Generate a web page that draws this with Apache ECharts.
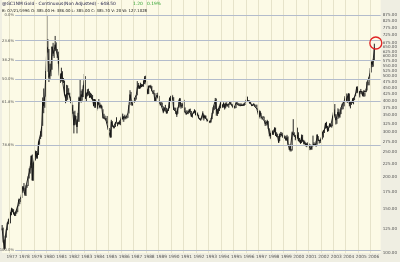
<!DOCTYPE html>
<html><head><meta charset="utf-8">
<script src="https://cdn.jsdelivr.net/npm/echarts@6/dist/echarts.min.js"></script>
<style>html,body{margin:0;padding:0;background:#efeee2;}#c{width:400px;height:262px;}</style>
</head><body><div id="c"></div>
<script>
// Monthly gold (continuous futures), Jun 1976 .. Apr 2006
const startYear = 1976, startMonth = 6;
const closes = [
125,113,104,116,123,131,134,
132,142,149,148,144,141,145,145,154,162,160,165,
175,183,181,170,184,183,200,208,218,242,194,226,
233,251,240,246,275,277,296,315,397,382,415,512,
653,637,494,517,535,653,614,631,666,630,619,590,
506,489,514,482,480,422,409,426,428,427,414,397,
384,362,320,350,333,315,342,411,397,423,414,448,
481,408,414,433,437,416,422,414,405,382,405,382,
370,395,394,377,385,372,342,348,341,333,329,309,
306,288,330,321,315,317,327,333,326,325,325,327,
350,338,345,345,343,346,357,385,423,401,383,391,
405,405,421,451,460,448,462,453,460,468,492,484,
458,427,458,451,455,437,437,427,397,412,421,410,
394,387,383,377,362,373,368,359,367,375,409,401,
415,407,368,368,363,352,372,387,408,380,383,386,
366,362,355,357,360,368,362,347,354,358,366,353,
354,353,341,337,337,343,357,341,349,339,334,333,
329,329,337,354,375,378,401,371,355,369,373,391,
377,381,391,376,387,385,384,386,394,389,383,383,
374,376,392,389,385,387,383,382,383,383,387,387,
405,400,396,392,391,382,385,386,379,379,371,369,
345,363,348,340,345,334,324,325,332,311,296,290,
305,297,301,310,293,296,288,273,294,292,294,288,
287,287,279,286,268,262,255,254,299,299,291,290,
283,293,278,275,272,288,276,277,273,265,270,272,
265,267,257,264,267,270,265,273,293,279,275,277,
282,297,302,308,326,318,304,312,323,317,319,347,
368,348,335,340,361,346,355,375,385,386,398,416,
400,397,427,388,393,395,391,408,416,428,452,438,
422,435,428,435,417,436,429,433,473,470,496,517,
569,556,583,648.5
];
const highs = [
129,126,113,117,124,132,136,
136,145,151,150,149,145,146,148,154,164,163,166,
177,184,189,181,185,186,201,216,220,243,245,227,
237,254,253,248,276,282,303,316,412,447,416,524,
873,700,640,560,560,655,677,635,721,680,640,625,
600,512,540,523,492,480,423,462,460,448,430,415,
400,385,362,365,348,337,358,415,487,438,444,460,
510,500,430,444,446,436,430,426,421,406,405,404,
386,397,406,393,386,382,370,355,349,342,348,333,
312,307,336,332,318,319,330,344,328,330,334,331,
358,355,348,352,347,348,356,384,440,433,400,393,
410,411,421,478,470,459,471,466,463,481,500,502,
478,444,458,459,462,457,438,441,428,412,429,431,
418,397,395,393,380,377,385,375,367,375,412,418,
424,420,413,376,375,365,376,404,410,392,391,393,
403,376,366,366,362,371,372,364,355,362,370,366,
361,359,352,342,340,346,363,353,350,349,340,337,
334,333,342,358,377,383,410,408,371,374,381,395,
395,386,394,389,393,394,388,388,399,395,389,387,
381,380,395,396,392,390,390,390,387,390,390,389,
418,415,402,401,396,389,387,391,388,384,386,373,
368,365,358,346,348,346,335,330,336,332,311,298,
307,305,302,314,313,300,296,290,297,301,300,298,
293,291,290,293,289,269,264,258,302,338,300,293,
292,313,300,285,280,294,293,280,278,274,272,274,
272,269,268,264,291,274,270,276,295,290,280,281,
285,302,306,309,327,330,318,313,326,325,322,349,
371,388,354,341,373,370,360,376,389,394,398,417,
427,415,427,427,395,398,409,410,417,429,455,456,
438,437,445,436,435,441,429,446,475,476,497,538,
573,572,585,672
];
const lows = [
123,110,103,104,115,123,130,
129,131,141,145,142,140,140,143,145,153,156,159,
165,173,176,168,168,181,184,197,206,217,193,193,
217,232,236,236,244,268,282,288,318,357,375,415,
520,620,474,485,500,530,600,590,630,630,590,560,
500,470,476,480,470,420,391,396,403,422,412,392,
370,355,297,320,322,297,330,330,397,393,400,413,
448,406,396,416,426,410,411,405,402,380,375,375,
365,372,386,373,373,372,340,340,336,333,325,307,
303,285,286,315,311,311,315,328,317,322,322,320,
330,337,330,337,338,340,342,356,384,400,383,383,
392,396,404,420,446,445,447,452,455,454,465,475,
454,424,425,450,447,436,425,424,397,395,411,409,
394,383,383,377,357,363,368,355,356,364,373,398,
401,404,368,367,354,345,355,374,378,372,375,374,
366,357,351,354,354,358,360,345,343,355,358,350,
350,349,340,336,333,337,343,334,340,339,331,331,
327,326,328,338,356,367,371,349,348,355,364,373,
373,375,376,369,373,379,379,375,385,386,380,374,
372,373,374,386,383,383,380,381,381,381,382,386,
394,395,396,389,389,382,381,384,379,378,371,367,
345,340,347,337,340,334,318,319,322,309,289,283,
279,293,293,300,290,287,288,273,277,287,290,285,
283,283,278,278,268,256,252,252,254,292,288,279,
281,283,277,275,270,272,276,269,269,264,262,268,
264,255,256,256,264,266,265,263,268,277,271,272,
277,281,286,298,310,312,301,303,313,315,313,317,
342,347,322,324,339,341,343,354,369,370,380,397,
399,392,396,380,373,385,391,387,402,416,428,430,
417,412,426,423,416,414,416,432,439,460,460,495,
517,543,545,577
];
const yearLabels = [1977,1978,1979,1980,1981,1982,1983,1984,1985,1986,1987,1988,1989,1990,1991,1992,1993,1994,1995,1996,1997,1998,1999,2000,2001,2002,2003,2004,2005,2006];
const priceTicks = [100,125,150,175,200,225,250,275,300,325,350,375,400,425,450,475,500,525,550,575,600,625,650,675,725,775,825,875];
const fibHigh = 873, fibLow = 102.5;
const fibRatios = [0, 0.236, 0.382, 0.5, 0.618, 0.786, 1];
const fibLabels = ['0.0%','23.6%','38.2%','50.0%','61.8%','78.6%','100.0%'];
const circlePoint = [2006.41, 676];

const dates = closes.map((_, i) => startYear + (startMonth - 1 + i + 0.5) / 12);
const closeData = closes.map((v, i) => [dates[i], v]);
const rangeData = closes.map((_, i) => [dates[i], lows[i], highs[i]]);

const XMIN = 1976.447, XMAX = 2006.8;
const chart = echarts.init(document.getElementById('c'), null, {renderer: 'canvas'});
const fibLines = fibRatios.map((r, i) => {
  const lvl = fibHigh - r * (fibHigh - fibLow);
  return [
    {coord: [1977.5, lvl], label: {formatter: fibLabels[i]}},
    {coord: [XMAX, lvl]}
  ];
});
chart.setOption({
  animation: false,
  backgroundColor: '#efeee2',
  grid: {left: 2, right: 14, top: 0, bottom: 9, show: true, backgroundColor: '#fcfae6', borderWidth: 0},
  xAxis: {
    type: 'value', min: XMIN, max: XMAX,
    axisLine: {show: false}, axisTick: {show: false}, splitLine: {show: false},
    axisLabel: {
      customValues: yearLabels.map(y => y + 0.24),
      formatter: v => String(Math.floor(v)),
      fontSize: 4.3, color: '#555', margin: 2, fontFamily: 'DejaVu Sans'
    }
  },
  yAxis: {
    type: 'log', logBase: 10, min: 100, max: 1000, position: 'right',
    axisLine: {show: false}, axisTick: {show: false}, splitLine: {show: false},
    axisLabel: {
      customValues: priceTicks,
      formatter: v => Number(v).toFixed(2),
      fontSize: 4.1, color: '#555', margin: 2, fontFamily: 'DejaVu Sans'
    }
  },
  graphic: [
    {type: 'text', left: 2, top: 2, z: 100, style: {text: '@GC1NM Gold - Continuous(Non Adjusted) - 648.50', font: '4.4px DejaVu Sans', fill: '#1c1c44'}},
    {type: 'text', left: 133, top: 2, z: 100, style: {text: '1.20   0.19%', font: '4.4px DejaVu Sans', fill: '#2aa02a'}},
    {type: 'text', left: 2, top: 9, z: 100, style: {text: 'B: 07/21/1996 O: 385.00 H: 386.00 L: 385.00 C: 385.70 V: 20 W: 127.1028', font: '3.9px DejaVu Sans', fill: '#222'}}
  ],
  series: [
    {
      type: 'line', data: [], silent: true,
      markLine: {
        silent: true, symbol: 'none', animation: false,
        lineStyle: {color: '#e6e3ca', width: 1, type: 'solid'},
        label: {show: false},
        data: yearLabels.map(y => ({xAxis: y}))
      }
    },
    {
      type: 'line', data: [], silent: true,
      markLine: {
        silent: true, symbol: 'none', animation: false,
        lineStyle: {color: '#b3bccc', width: 1, type: 'solid'},
        label: {show: true, position: 'start', fontSize: 3.8, color: '#555', distance: 1, fontFamily: 'DejaVu Sans'},
        data: fibLines
      }
    },
    {
      type: 'custom', data: rangeData, silent: true,
      encode: {x: 0, y: [1, 2]},
      renderItem: function (params, api) {
        const lo = api.coord([api.value(0), api.value(1)]);
        const hi = api.coord([api.value(0), api.value(2)]);
        return {type: 'line', shape: {x1: lo[0], y1: lo[1], x2: hi[0], y2: hi[1]}, style: {stroke: '#111', lineWidth: 0.9}};
      }
    },
    {
      type: 'line', data: closeData, symbol: 'none', silent: true,
      lineStyle: {color: '#111', width: 0.9},
      markPoint: {
        silent: true, symbol: 'circle', symbolSize: 12,
        itemStyle: {color: 'rgba(0,0,0,0)', borderColor: '#e02424', borderWidth: 1.3},
        label: {show: false},
        data: [{coord: circlePoint}]
      }
    }
  ]
});
</script></body></html>
